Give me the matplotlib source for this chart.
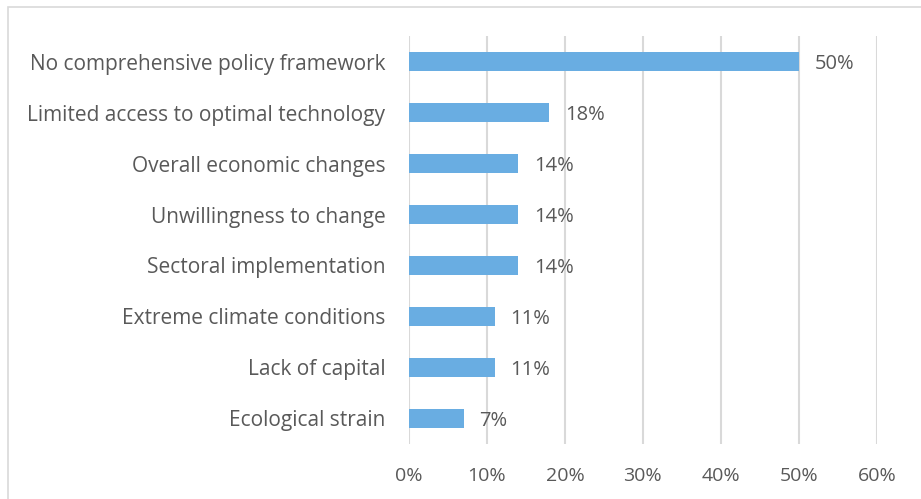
import matplotlib.pyplot as plt
from matplotlib.patches import Rectangle
from matplotlib.ticker import PercentFormatter

plt.rcParams['font.family'] = ['Open Sans', 'DejaVu Sans']

categories = ["No comprehensive policy framework",
              "Limited access to optimal technology",
              "Overall economic changes",
              "Unwillingness to change",
              "Sectoral implementation",
              "Extreme climate conditions",
              "Lack of capital",
              "Ecological strain"]
values = [50, 18, 14, 14, 14, 11, 11, 7]
xticks = [0, 10, 20, 30, 40, 50, 60]

text_color = "#595959"
grid_color = "#d9d9d9"

fig = plt.figure(figsize=(9.21, 4.99), dpi=100)
ax = fig.add_axes([0.444, 0.111, 0.508, 0.816])

ypos = list(range(len(categories)))[::-1]
ax.barh(ypos, values, height=0.37, color="#69ADE2", zorder=3)

for y, v in zip(ypos, values):
    ax.text(v + 2, y, f"{v}%", va="center_baseline", ha="left",
            fontsize=14.5, color=text_color)

ax.set_xlim(0, 60)
ax.set_ylim(-0.5, len(categories) - 0.5)
ax.set_xticks(xticks)
ax.xaxis.set_major_formatter(PercentFormatter(decimals=0))
ax.set_yticks(ypos)
ax.set_yticklabels(categories, fontsize=15)
ax.tick_params(axis='both', length=0, labelsize=14, labelcolor=text_color)
ax.tick_params(axis='y', labelsize=15, pad=17)
ax.tick_params(axis='x', pad=17)
ax.grid(axis='x', color=grid_color, linewidth=1.5, zorder=0)
for s in ax.spines.values():
    s.set_visible(False)

fig.patches.append(Rectangle((8 / 921, -0.05), 1.2, 1.05 - 7 / 499,
                             transform=fig.transFigure, fill=False,
                             edgecolor=grid_color, linewidth=1.2))

fig.savefig("out.png", dpi=100)
